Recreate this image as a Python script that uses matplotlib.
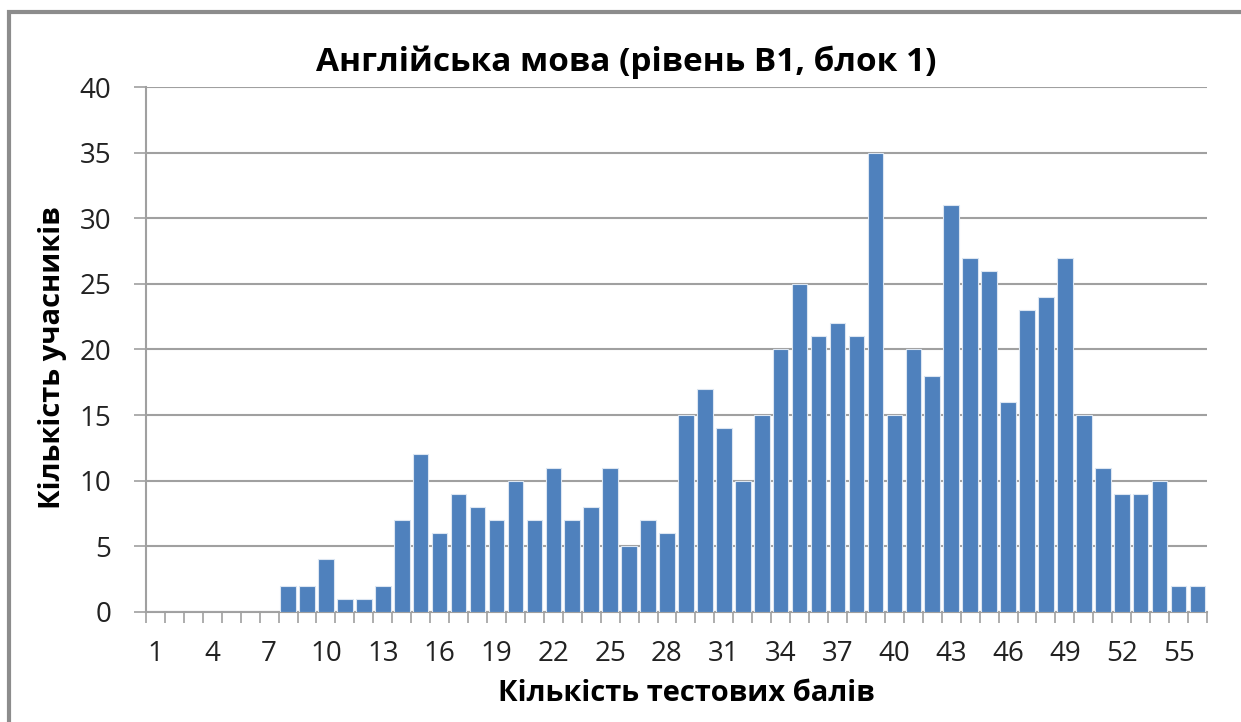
import matplotlib.pyplot as plt
import numpy as np
from matplotlib.patches import Rectangle

plt.rcParams['font.family'] = ['Open Sans', 'DejaVu Sans']

# кількість тестових балів та кількість учасників
bali = list(range(1, 57))
uchasnyky = [0, 0, 0, 0, 0, 0, 0, 2, 2, 4, 1, 1, 2, 7, 12, 6, 9, 8, 7, 10,
             7, 11, 7, 8, 11, 5, 7, 6, 15, 17, 14, 10, 15, 20, 25, 21, 22, 21, 35, 15,
             20, 18, 31, 27, 26, 16, 23, 24, 27, 15, 11, 9, 9, 10, 2, 2]
pidpysy = list(range(1, 57, 3))
y_ticks = list(range(0, 41, 5))

title = 'Англійська мова (рівень B1, блок 1)'
xlabel = 'Кількість тестових балів'
ylabel = 'Кількість учасників'

fig = plt.figure(figsize=(12.41, 7.22), dpi=100)
ax = fig.add_axes([0.1176, 0.1524, 0.855, 0.7271])

grid_color = '#a0a0a0'
ax.bar(bali, uchasnyky, width=0.82, color='#4f81bd', edgecolor='#dce6f2',
       linewidth=0.8, zorder=3)

ax.set_xlim(0.5, 56.5)
ax.set_ylim(0, 40)
ax.set_yticks(y_ticks)
ax.set_xticks(pidpysy)
ax.set_xticks(np.arange(0.5, 57, 1), minor=True)
ax.tick_params(axis='x', which='major', length=0, pad=20, labelsize=20, colors='#222222')
ax.tick_params(axis='x', which='minor', length=8, width=1.2, color=grid_color)
ax.tick_params(axis='y', length=9, width=1.2, color=grid_color, pad=16,
               labelsize=20, labelcolor='#222222')
ax.yaxis.grid(True, color=grid_color, linewidth=1.5, zorder=0)

for s in ['top', 'right']:
    ax.spines[s].set_visible(False)
for s in ['left', 'bottom']:
    ax.spines[s].set_color(grid_color)
    ax.spines[s].set_linewidth(1.5)

fig.text(0.505, 0.914, title, ha='center', va='center', fontsize=24, fontweight='bold')
fig.text(0.553, 0.040, xlabel, ha='center', va='center', fontsize=21, fontweight='bold')
fig.text(0.042, 0.505, ylabel, ha='center', va='center', rotation=90, fontsize=21, fontweight='bold')

# рамка діаграми
fig.patches.append(Rectangle((0.0075, -0.1), 1.2, 1.083, transform=fig.transFigure,
                             fill=False, edgecolor='#8c8c8c', linewidth=3))

fig.savefig('out.png', dpi=100)
